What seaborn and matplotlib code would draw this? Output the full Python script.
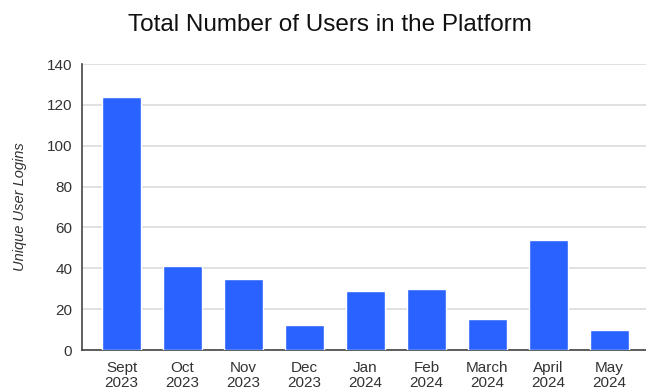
import matplotlib
matplotlib.use("Agg")
import matplotlib.pyplot as plt
import seaborn as sns
import pandas as pd

months = ["Sept\n2023", "Oct\n2023", "Nov\n2023", "Dec\n2023", "Jan\n2024",
          "Feb\n2024", "March\n2024", "April\n2024", "May\n2024"]
logins = [124, 41, 35, 12, 29, 30, 15, 54, 10]
yticks = [0, 20, 40, 60, 80, 100, 120, 140]

sns.set_theme(style="white")
plt.rcParams['font.family'] = ['Liberation Sans', 'DejaVu Sans']

df = pd.DataFrame({"month": months, "logins": logins})

fig = plt.figure(figsize=(6.46, 3.91), dpi=100)
ax = fig.add_axes([82/646, 1 - 350/391, (646-82)/646, (350-64)/391])

sns.barplot(data=df, x="month", y="logins", color="#2962ff", saturation=1,
            width=0.65, ax=ax, zorder=3)

ax.set_xlim(-0.65, 8.6)
ax.set_ylim(0, 140)
ax.set_yticks(yticks)
ax.set_yticklabels([str(t) for t in yticks], fontsize=11, color="#333333")
ax.tick_params(axis="x", labelsize=11, colors="#333333", length=0, pad=8)
ax.tick_params(axis="y", length=0, pad=7)
for lab in ax.get_xticklabels():
    lab.set_linespacing(1.12)
ax.yaxis.grid(True, color="#dcdcdc", linewidth=1.2, zorder=0)
ax.set_axisbelow(True)

for s in ["top", "right"]:
    ax.spines[s].set_visible(False)
ax.spines["left"].set_color("#444444")
ax.spines["bottom"].set_color("#444444")
ax.spines["left"].set_linewidth(1.2)
ax.spines["bottom"].set_linewidth(1.2)

ax.set_xlabel("")
ax.set_ylabel("Unique User Logins", fontsize=10.5, style="italic", color="#333333", labelpad=14)

fig.text(330/646, 1 - 25/391, "Total Number of Users in the Platform",
         ha="center", va="center", fontsize=17.5, color="#111111")

fig.savefig("out.png", dpi=100)
